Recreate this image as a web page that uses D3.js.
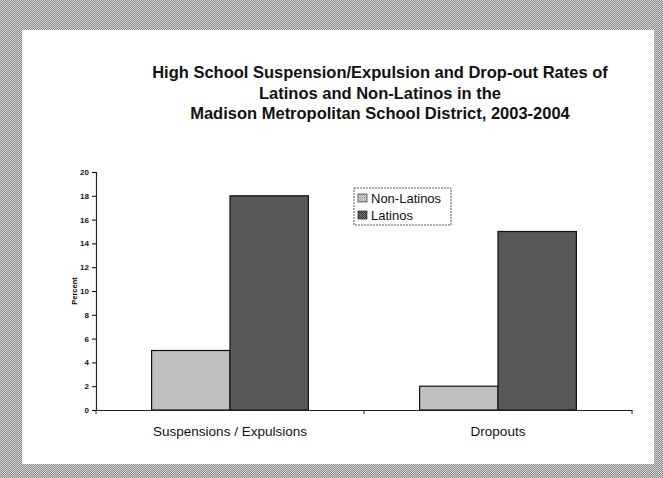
<!DOCTYPE html>
<html>
<head>
<meta charset="utf-8">
<script src="https://cdn.jsdelivr.net/npm/d3@7"></script>
<style>
  body { margin: 0; background: #fff; }
  svg { display: block; font-family: "Liberation Sans", Arial, sans-serif; }
</style>
</head>
<body>
<div id="chart"></div>
<script>
// data
const categories = ["Suspensions / Expulsions", "Dropouts"];
const groups = ["Non-Latinos", "Latinos"];
const nonLatinos = [5, 2];
const latinos = [18, 15];
const yTicks = [0, 2, 4, 6, 8, 10, 12, 14, 16, 18, 20];
const titleLines = [
    "High School Suspension/Expulsion and Drop-out Rates of",
    "Latinos and Non-Latinos in the",
    "Madison Metropolitan School District, 2003-2004"
];

const W = 663, H = 478;
const margin = {top: 172, right: 31, bottom: 68, left: 96};
const width = W - margin.left - margin.right;
const height = H - margin.top - margin.bottom;

const svg = d3.select("#chart").append("svg")
    .attr("width", W)
    .attr("height", H);

// scanned-paper look for the frame and the bars
const defs = svg.append("defs");
function dither(id, c1, c2) {
    let p = defs.append("pattern")
        .attr("id", id)
        .attr("width", 2).attr("height", 2)
        .attr("patternUnits", "userSpaceOnUse");
    p.append("rect").attr("width", 2).attr("height", 2).attr("fill", c1);
    p.append("rect").attr("width", 1).attr("height", 1).attr("fill", c2);
    p.append("rect").attr("x", 1).attr("y", 1).attr("width", 1).attr("height", 1).attr("fill", c2);
}
dither("frame", "#8e8e8e", "#d0d0d0");
dither("light", "#a4a4a4", "#dcdcdc");
dither("dark", "#3a3a3a", "#767676");

svg.append("rect").attr("width", W).attr("height", H).attr("fill", "url(#frame)");
svg.append("rect")
    .attr("x", 22).attr("y", 30)
    .attr("width", 632).attr("height", 434)
    .attr("fill", "#fff");

svg.append("text")
    .attr("text-anchor", "middle")
    .style("font-size", "16.5px")
    .style("font-weight", "bold")
    .attr("fill", "#111")
    .selectAll("tspan")
    .data(titleLines)
    .enter().append("tspan")
    .attr("x", 380)
    .attr("y", (d, i) => 78 + i * 20.5)
    .text(d => d);

const g = svg.append("g")
    .attr("transform", `translate(${margin.left},${margin.top})`);

const x0 = d3.scaleBand()
    .domain(categories)
    .range([0, width])
    .paddingInner(0)
    .paddingOuter(0);

const x1 = d3.scaleBand()
    .domain(groups)
    .range([0, x0.bandwidth() * 0.585]);

const y = d3.scaleLinear()
    .domain([0, 20])
    .range([height, 0]);

const color = d3.scaleOrdinal()
    .domain(groups)
    .range(["url(#light)", "url(#dark)"]);

const rows = categories.map((c, i) => ({
    cat: c,
    values: [
        {group: "Non-Latinos", value: nonLatinos[i]},
        {group: "Latinos", value: latinos[i]}
    ]
}));

const offset = (x0.bandwidth() - x1.range()[1]) / 2;

g.selectAll(".cat")
    .data(rows)
    .enter().append("g")
    .attr("class", "cat")
    .attr("transform", d => `translate(${x0(d.cat) + offset},0)`)
    .selectAll("rect")
    .data(d => d.values)
    .enter().append("rect")
    .attr("x", d => x1(d.group))
    .attr("y", d => y(d.value))
    .attr("width", x1.bandwidth())
    .attr("height", d => y(0) - y(d.value))
    .attr("fill", d => color(d.group))
    .attr("stroke", "#111")
    .attr("stroke-width", 1.2);

// axes
const yAxis = d3.axisLeft(y).tickValues(yTicks).tickSize(4).tickPadding(3);
g.append("g")
    .attr("class", "y-axis")
    .call(yAxis)
    .call(a => a.select(".domain").attr("stroke", "#222").attr("stroke-width", 1.2))
    .call(a => a.selectAll("text")
        .style("font-size", "8px").style("font-weight", "bold").attr("fill", "#111"));

const xAxis = d3.axisBottom(x0).tickSize(0).tickPadding(16);
g.append("g")
    .attr("class", "x-axis")
    .attr("transform", `translate(0,${height})`)
    .call(xAxis)
    .call(a => a.select(".domain").attr("stroke", "#222").attr("stroke-width", 1.2))
    .call(a => a.selectAll("text")
        .style("font-size", "13.5px").attr("fill", "#111"));

// tick marks between categories
g.append("g")
    .attr("transform", `translate(0,${height})`)
    .selectAll("line")
    .data([0, 1, 2])
    .enter().append("line")
    .attr("x1", d => d * x0.bandwidth())
    .attr("x2", d => d * x0.bandwidth())
    .attr("y1", 0).attr("y2", 4)
    .attr("stroke", "#222");

g.append("text")
    .attr("transform", "rotate(-90)")
    .attr("x", -height / 2)
    .attr("y", -19)
    .attr("text-anchor", "middle")
    .style("font-size", "7.5px")
    .style("font-weight", "bold")
    .text("Percent");

// legend
const legend = svg.append("g").attr("transform", "translate(354,188)");
legend.append("rect")
    .attr("width", 97).attr("height", 37)
    .attr("fill", "#fff")
    .attr("stroke", "#333")
    .attr("stroke-width", 0.8)
    .attr("stroke-dasharray", "2,1");

const items = legend.selectAll(".legend")
    .data(groups)
    .enter().append("g")
    .attr("class", "legend")
    .attr("transform", (d, i) => `translate(4,${6 + i * 17})`);

items.append("rect")
    .attr("width", 9).attr("height", 8)
    .attr("fill", d => color(d))
    .attr("stroke", "#111")
    .attr("stroke-width", 0.6);

items.append("text")
    .attr("x", 13)
    .attr("y", 8.5)
    .style("font-size", "13px")
    .attr("fill", "#111")
    .text(d => d);
</script>
</body>
</html>
